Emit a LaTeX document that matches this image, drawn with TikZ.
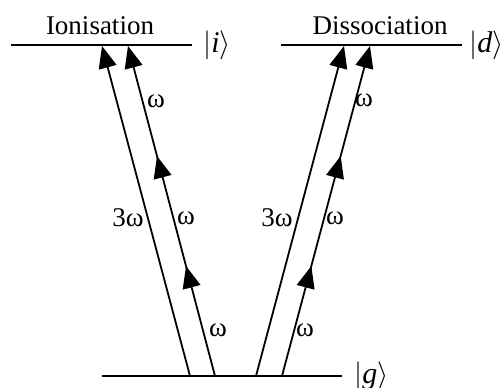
\documentclass[tikz,border=0pt]{standalone}
\usepackage{fontspec}
\setmainfont{Liberation Serif}
\usetikzlibrary{arrows.meta, decorations.markings}
\tikzset{
  level/.style={line width=0.9pt},
  photon/.style={line width=0.9pt, -{Triangle[length=11pt, width=9pt]}},
  photonchain/.style={photon, postaction={decorate},
    decoration={markings,
      mark=at position 0.3333 with {\arrow{Triangle[length=11pt, width=9pt]}},
      mark=at position 0.6667 with {\arrow{Triangle[length=11pt, width=9pt]}}}},
  lbl/.style={font=\fontsize{13.5}{15}\selectfont, inner sep=1pt},
  ket/.style={font=\fontsize{15}{17}\selectfont, inner sep=1pt, anchor=west},
}
\begin{document}
\begin{tikzpicture}[x=0.5pt, y=-0.5pt]
  \useasboundingbox (0,0) rectangle (504,387);

  % --- levels ---
  \coordinate (ionL) at (11,45);   \coordinate (ionR) at (192,45);
  \coordinate (disL) at (281,45);  \coordinate (disR) at (462,45);
  \coordinate (gndL) at (102,376); \coordinate (gndR) at (342,376);
  \draw[level] (ionL) -- (ionR);
  \draw[level] (disL) -- (disR);
  \draw[level] (gndL) -- (gndR);
  \node[lbl] (ion) at (100,26) {Ionisation};
  \node[lbl] (dis) at (380,26) {Dissociation};
  \node[ket] (keti) at (201,45) {$\big|\mathit{i}\big\rangle$};
  \node[ket] (ketd) at (467,45) {$\big|\mathit{d}\big\rangle$};
  \node[ket] (ketg) at (352,376) {$\big|\mathit{g}\big\rangle$};

  % --- ionisation pathway ---
  \coordinate (a0) at (190,376); \coordinate (a1) at (102,46);
  \coordinate (b0) at (215,376); \coordinate (b1) at (128,46);
  \draw[photon] (a0) -- (a1);
  \draw[photonchain] (b0) -- (b1);
  \node[lbl] (w3a) at (128,218) {3ω};
  \node[lbl] (wa1) at (218,330) {ω};
  \node[lbl] (wa2) at (186,218) {ω};
  \node[lbl] (wa3) at (156,101) {ω};

  % --- dissociation pathway ---
  \coordinate (c0) at (256,376); \coordinate (c1) at (344,46);
  \coordinate (d0) at (282,376); \coordinate (d1) at (370,46);
  \draw[photon] (c0) -- (c1);
  \draw[photonchain] (d0) -- (d1);
  \node[lbl] (w3d) at (277,218) {3ω};
  \node[lbl] (wd1) at (305,330) {ω};
  \node[lbl] (wd2) at (335,218) {ω};
  \node[lbl] (wd3) at (364,100) {ω};
\end{tikzpicture}
\end{document}
